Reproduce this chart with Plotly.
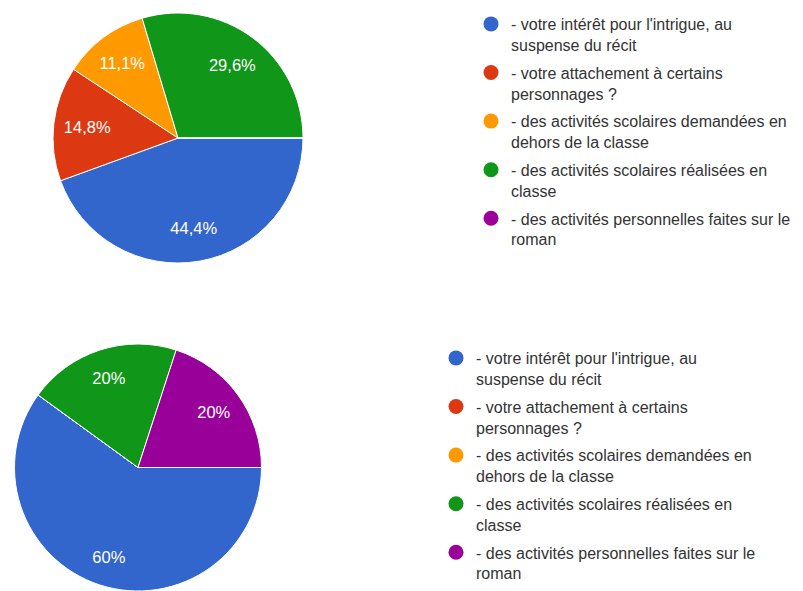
import plotly.graph_objects as go

labels = [
    "- votre intérêt pour l'intrigue, au<br>suspense du récit",
    "- votre attachement à certains<br>personnages ?",
    "- des activités scolaires demandées en<br>dehors de la classe",
    "- des activités scolaires réalisées en<br>classe",
    "- des activités personnelles faites sur le<br>roman",
]
colors = ["#3366cc", "#dc3912", "#ff9900", "#109618", "#990099"]
values_top = [12, 4, 3, 8, 0]
values_bottom = [3, 0, 0, 1, 1]

# page body has an 8px margin, so the figure is drawn 8px in from the window edge
W, H = 795, 583
OFF = 8


def dom(x0, x1, ytop, ybot):
    x0, x1, ytop, ybot = x0 - OFF, x1 - OFF, ytop - OFF, ybot - OFF
    return dict(x=[max(0, x0 / W), min(1, x1 / W)],
                y=[max(0, 1 - ybot / H), min(1, 1 - ytop / H)])


top_dom = dom(53, 303, 13, 263)
bot_dom = dom(14.5, 261.5, 344, 591)

lblfont = dict(color="white", size=16.5, family="Liberation Sans, Arial")


def add_pie(values, domain, fmt, hole):
    # coloured pie
    fig.add_trace(go.Pie(
        labels=labels, values=values, sort=False, direction="clockwise", rotation=90,
        marker=dict(colors=colors, line=dict(color="white", width=1)),
        textinfo="none", domain=domain, showlegend=False, hoverinfo="label+percent",
    ))
    # transparent ring carrying the percentage labels further out
    fig.add_trace(go.Pie(
        labels=labels, values=values, sort=False, direction="clockwise", rotation=90,
        hole=hole,
        marker=dict(colors=["rgba(0,0,0,0)"] * len(values), line=dict(width=0)),
        texttemplate=fmt, textposition="inside", insidetextorientation="horizontal",
        textfont=lblfont, domain=domain, showlegend=False, hoverinfo="skip",
    ))


fig = go.Figure()
add_pie(values_top, top_dom, "%{percent:.1%}", 0.46)
add_pie(values_bottom, bot_dom, "%{percent:.0%}", 0.52)

for leg in ["legend", "legend2"]:
    for i, (lab, col) in enumerate(zip(labels, colors)):
        fig.add_trace(go.Scatter(
            x=[None], y=[None], mode="markers", name=lab,
            marker=dict(color=col, size=15, symbol="circle"),
            legend=leg, legendgroup=f"{leg}_{i}", showlegend=True, hoverinfo="skip",
        ))

legfont = dict(size=16, color="#333333", family="Liberation Sans, Arial")
fig.update_layout(
    width=W, height=H, margin=dict(l=0, r=0, t=0, b=0, autoexpand=False),
    paper_bgcolor="white", plot_bgcolor="white",
    separators=",.",
    xaxis=dict(visible=False), yaxis=dict(visible=False),
    legend=dict(x=463 / W, y=1 + 1 / H, xanchor="left", yanchor="top",
                font=legfont, bgcolor="rgba(0,0,0,0)", valign="top",
                tracegroupgap=4),
    legend2=dict(x=428 / W, y=1 - 333 / H, xanchor="left", yanchor="top",
                 font=legfont, bgcolor="rgba(0,0,0,0)", valign="top",
                 tracegroupgap=4),
)
fig.write_html("out.html")
